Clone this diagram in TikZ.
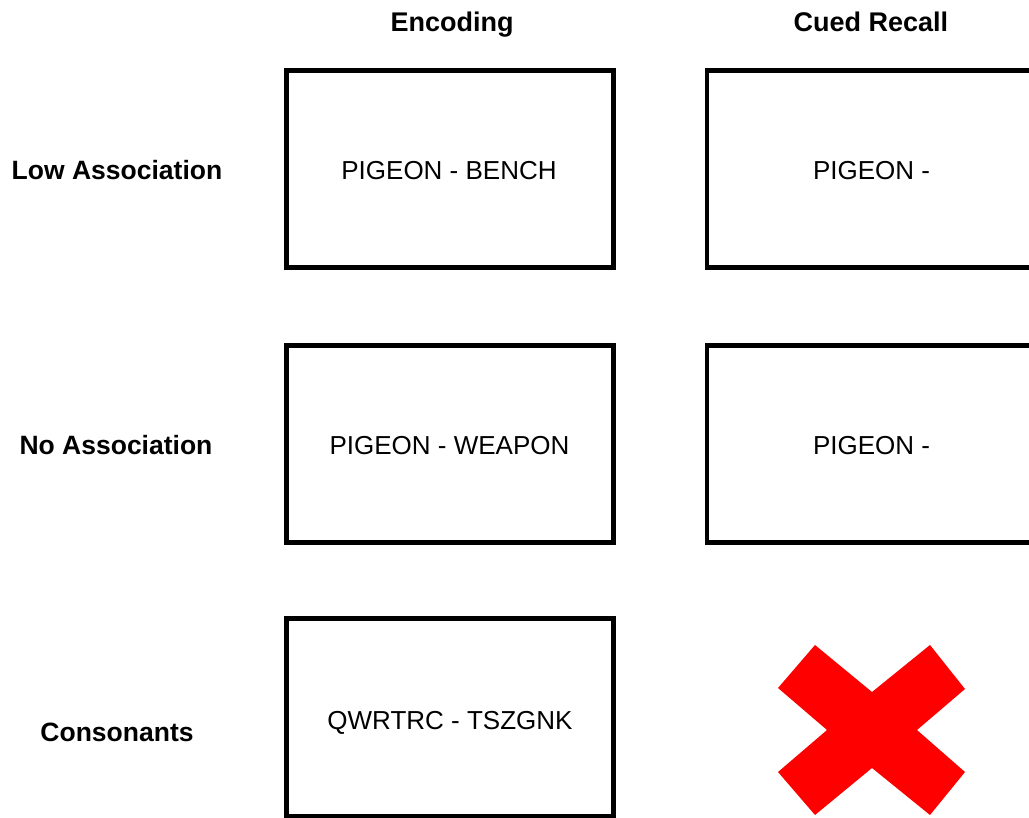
\documentclass[tikz,border=0pt]{standalone}
\usepackage{fontspec}
\setmainfont{Liberation Sans}
\begin{document}
\begin{tikzpicture}[x=1pt,y=-1pt,
  cell/.style={draw=black,line width=4.5pt,minimum width=327pt,minimum height=197pt,inner sep=0pt},
  celltext/.style={font=\fontsize{26}{30}\selectfont,inner sep=0pt,anchor=base},
  head/.style={font=\bfseries\fontsize{27}{30}\selectfont,inner sep=0pt,anchor=base},
  rowlab/.style={font=\bfseries\fontsize{26.5}{30}\selectfont,inner sep=0pt,anchor=base}]
\useasboundingbox (0,0) rectangle (1029,818);
\begin{scope}
\clip (0,0) rectangle (1029,818);
\node[head] (hEnc) at (452,32) {Encoding};
\node[head] (hCue) at (871,32) {Cued Recall};
\node[rowlab] (rLow) at (117,180) {Low Association};
\node[rowlab] (rNo) at (116,455) {No Association};
\node[rowlab] (rCon) at (117,741.5) {Consonants};
\node[cell] (e1) at (450,169) {};
\node[cell] (e2) at (450,444) {};
\node[cell,minimum height=198pt] (e3) at (450,717.5) {};
\node[cell,minimum width=330pt] (c1) at (872,169) {};
\node[cell,minimum width=330pt] (c2) at (872,444) {};
\node[celltext] (e1t) at (449,180) {PIGEON - BENCH};
\node[celltext] (e2t) at (449.5,455) {PIGEON - WEAPON};
\node[celltext] (e3t) at (450,729) {QWRTRC - TSZGNK};
\node[celltext] (c1t) at (871.5,180) {PIGEON -};
\node[celltext] (c2t) at (871.5,455) {PIGEON -};
\fill[red] (778,688) -- (815,645) -- (872,692) -- (930,645) -- (965,689) -- (917,730)
  -- (965,772) -- (930,815) -- (872,768) -- (815,815) -- (778,772) -- (827,730) -- cycle;
\end{scope}
\end{tikzpicture}
\end{document}
